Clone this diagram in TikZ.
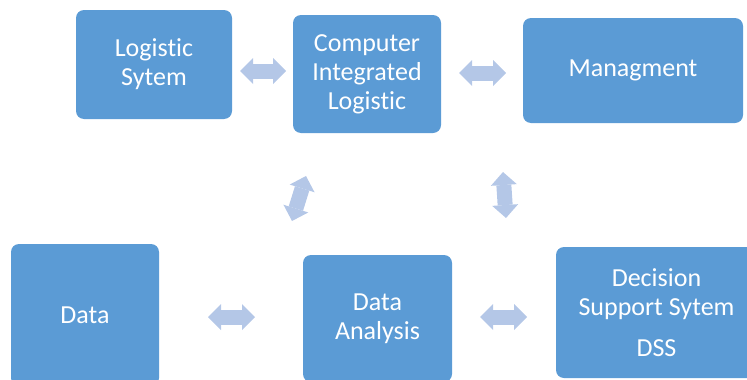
\documentclass[tikz,border=0pt]{standalone}
\usepackage{fontspec}
\setmainfont{Carlito}[Ligatures=NoCommon]
\usetikzlibrary{arrows.meta}

\definecolor{boxblue}{RGB}{91,155,213}
\definecolor{arrowblue}{RGB}{180,199,231}

\tikzset{
    block/.style={fill=boxblue, rounded corners=8pt, text=white, align=center,
        inner sep=0pt, font=\fontsize{26}{29}\selectfont},
    biarrow/.style={arrowblue, line width=15pt,
        {Triangle[width=26pt,length=13pt,line width=0pt]}-{Triangle[width=26pt,length=13pt,line width=0pt]}}
}

\begin{document}
\begin{tikzpicture}[x=1pt,y=-1pt]

    \clip (0,0) rectangle (747,380);

    % Upper row
    \node[block, minimum width=156pt, minimum height=109pt] (logsys) at (154,64.5) {Logistic\\Sytem};
    \node[block, minimum width=148pt, minimum height=118pt] (cil) at (367,74) {Computer\\Integrated\\Logistic};
    \node[block, minimum width=220pt, minimum height=105pt] (mgmt) at (633,70.5) {Managment};

    % Lower row
    \node[block, minimum width=148pt, minimum height=142pt] (data) at (85,315) {Data};
    \node[block, minimum width=149pt, minimum height=127pt] (analysis) at (377.5,318.5) {Data\\Analysis};
    \node[block, minimum width=201pt, minimum height=131pt] (dss) at (656.5,312.5) {Decision\\Support Sytem\\[12pt]DSS};

    % Arrow ends
    \coordinate (a1l) at (240,71);   \coordinate (a1r) at (286,71);
    \coordinate (a2l) at (459,73);   \coordinate (a2r) at (506,73);
    \coordinate (a3t) at (306,176);  \coordinate (a3b) at (292,221);
    \coordinate (a4t) at (503,172);  \coordinate (a4b) at (506,218);
    \coordinate (a5l) at (208,317);  \coordinate (a5r) at (255,317);
    \coordinate (a6l) at (480,317);  \coordinate (a6r) at (527,317);

    % Double arrows
    \draw[biarrow] (a1l) -- (a1r);
    \draw[biarrow] (a2l) -- (a2r);
    \draw[biarrow] (a3t) -- (a3b);
    \draw[biarrow] (a4t) -- (a4b);
    \draw[biarrow] (a5l) -- (a5r);
    \draw[biarrow] (a6l) -- (a6r);

\end{tikzpicture}
\end{document}
